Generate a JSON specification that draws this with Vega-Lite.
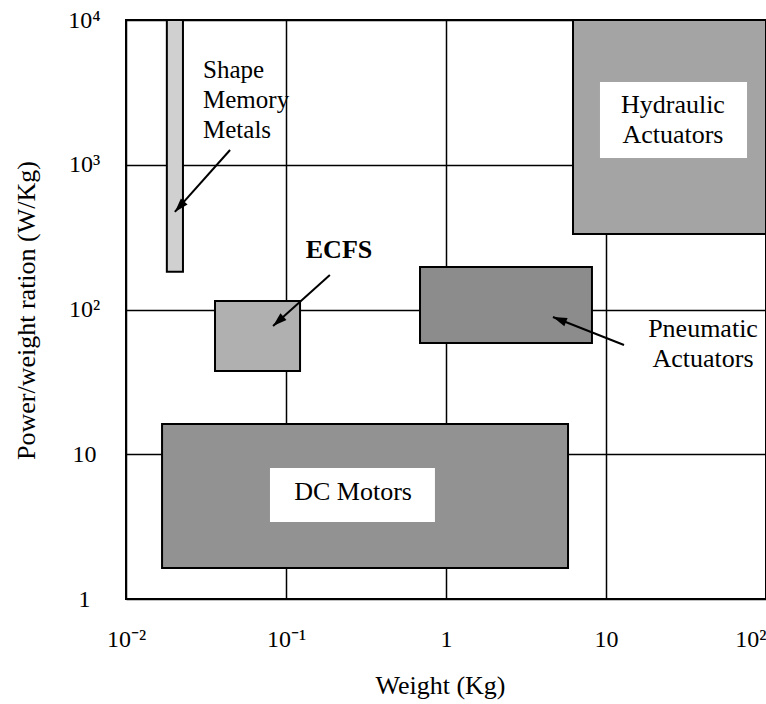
{
  "$schema": "https://vega.github.io/schema/vega-lite/v6.json",
  "width": 640,
  "height": 579,
  "autosize": "none",
  "padding": {"left": 126, "top": 20, "right": 0, "bottom": 105},
  "background": "white",
  "config": {
    "view": {"stroke": "black", "strokeWidth": 2},
    "font": "Liberation Serif"
  },
  "datasets": {
    "regions": [
      {"name": "Shape Memory Metals", "x": 0.0180, "x2": 0.0227, "y": 182, "y2": 10000},
      {"name": "ECFS", "x": 0.036, "x2": 0.1224, "y": 37.6, "y2": 114.5},
      {"name": "Pneumatic Actuators", "x": 0.688, "x2": 8.17, "y": 58.7, "y2": 196.6},
      {"name": "Hydraulic Actuators", "x": 6.22, "x2": 100, "y": 332, "y2": 10000},
      {"name": "DC Motors", "x": 0.0168, "x2": 5.79, "y": 1.64, "y2": 16.2}
    ],
    "labelboxes": [
      {"name": "DC Motors", "x": 0.0794, "x2": 0.853, "y": 3.40, "y2": 8.04},
      {"name": "Hydraulic Actuators", "x": 9.17, "x2": 76.1, "y": 1113, "y2": 3730}
    ],
    "arrows": [
      {"name": "smm", "x": 0.0202, "y": 472, "x2": 0.0447, "y2": 1265},
      {"name": "ecfs", "x": 0.083, "y": 76.9, "x2": 0.188, "y2": 173},
      {"name": "pneu", "x": 4.66, "y": 88.7, "x2": 12.96, "y2": 56.9}
    ],
    "texts": [
      {"group": "smm", "text": "Shape", "x": 0.0303, "y": 3974},
      {"group": "smm", "text": "Memory", "x": 0.0303, "y": 2466},
      {"group": "smm", "text": "Metals", "x": 0.0303, "y": 1531},
      {"group": "ecfs", "text": "ECFS", "x": 0.2144, "y": 227},
      {"group": "other", "text": "Hydraulic", "x": 26.2, "y": 2278},
      {"group": "other", "text": "Actuators", "x": 26.2, "y": 1413},
      {"group": "other", "text": "Pneumatic", "x": 40.4, "y": 64.6},
      {"group": "other", "text": "Actuators", "x": 40.4, "y": 40.1},
      {"group": "other", "text": "DC Motors", "x": 0.2625, "y": 4.83}
    ]
  },
  "encoding": {
    "x": {
      "field": "x",
      "type": "quantitative",
      "scale": {"type": "log", "domain": [0.01, 100], "nice": false},
      "axis": {
        "values": [0.01, 0.1, 1, 10, 100],
        "labelExpr": "datum.value < 0.05 ? '10⁻²' : datum.value < 0.5 ? '10⁻¹' : datum.value < 5 ? '1' : datum.value < 50 ? '10' : '10²'",
        "grid": true,
        "gridColor": "black",
        "gridWidth": 1.5,
        "gridOpacity": 1,
        "ticks": false,
        "tickSize": 0,
        "domain": false,
        "labelFlush": false,
        "labelOverlap": false,
        "labelFont": "Liberation Serif",
        "labelFontSize": 24,
        "labelColor": "black",
        "labelPadding": 28,
        "labelAlign": {"condition": {"test": "datum.value > 50", "value": "right"}, "value": "center"},
        "title": "Weight (Kg)",
        "titleFont": "Liberation Serif",
        "titleFontSize": 26,
        "titleFontWeight": "normal",
        "titleColor": "black",
        "titleX": 314,
        "titleY": 86,
        "titleAlign": "center",
        "titleBaseline": "middle"
      }
    },
    "y": {
      "field": "y",
      "type": "quantitative",
      "scale": {"type": "log", "domain": [1, 10000], "nice": false},
      "axis": {
        "values": [1, 10, 100, 1000, 10000],
        "labelExpr": "datum.value < 5 ? '1' : datum.value < 50 ? '10' : datum.value < 500 ? '10²' : datum.value < 5000 ? '10³' : '10⁴'",
        "grid": true,
        "gridColor": "black",
        "gridWidth": 1.5,
        "gridOpacity": 1,
        "ticks": false,
        "tickSize": 0,
        "domain": false,
        "labelOverlap": false,
        "labelFont": "Liberation Serif",
        "labelFontSize": 24,
        "labelColor": "black",
        "labelAlign": "center",
        "labelPadding": 42,
        "title": "Power/weight ration (W/Kg)",
        "titleFont": "Liberation Serif",
        "titleFontSize": 26,
        "titleFontWeight": "normal",
        "titleColor": "black",
        "titleX": -100,
        "titleY": 290,
        "titleAngle": -90,
        "titleAlign": "center",
        "titleBaseline": "middle"
      }
    }
  },
  "layer": [
    {
      "data": {"name": "regions"},
      "mark": {"type": "rect", "stroke": "black", "strokeWidth": 2},
      "encoding": {
        "x2": {"field": "x2"},
        "y2": {"field": "y2"},
        "color": {
          "field": "name",
          "type": "nominal",
          "scale": {
            "domain": ["Shape Memory Metals", "ECFS", "Pneumatic Actuators", "Hydraulic Actuators", "DC Motors"],
            "range": ["#d0d0d0", "#b0b0b0", "#8c8c8c", "#a4a4a4", "#929292"]
          },
          "legend": null
        }
      }
    },
    {
      "data": {"name": "labelboxes"},
      "mark": {"type": "rect", "fill": "white"},
      "encoding": {
        "x2": {"field": "x2"},
        "y2": {"field": "y2"}
      }
    },
    {
      "data": {"name": "arrows"},
      "mark": {"type": "rule", "stroke": "black", "strokeWidth": 2},
      "encoding": {
        "x2": {"field": "x2"},
        "y2": {"field": "y2"}
      }
    },
    {
      "data": {"name": "arrows"},
      "transform": [{"filter": "datum.name == 'smm'"}],
      "mark": {"type": "point", "shape": "M0,0L-0.32,1L0.32,1Z", "filled": true, "fill": "black", "opacity": 1, "size": 784, "angle": 222}
    },
    {
      "data": {"name": "arrows"},
      "transform": [{"filter": "datum.name == 'ecfs'"}],
      "mark": {"type": "point", "shape": "M0,0L-0.32,1L0.32,1Z", "filled": true, "fill": "black", "opacity": 1, "size": 784, "angle": 228}
    },
    {
      "data": {"name": "arrows"},
      "transform": [{"filter": "datum.name == 'pneu'"}],
      "mark": {"type": "point", "shape": "M0,0L-0.32,1L0.32,1Z", "filled": true, "fill": "black", "opacity": 1, "size": 784, "angle": 291.5}
    },
    {
      "data": {"name": "texts"},
      "transform": [{"filter": "datum.group == 'smm'"}],
      "mark": {"type": "text", "align": "left", "baseline": "alphabetic", "font": "Liberation Serif", "fontSize": 25, "color": "black"},
      "encoding": {"text": {"field": "text"}}
    },
    {
      "data": {"name": "texts"},
      "transform": [{"filter": "datum.group == 'ecfs'"}],
      "mark": {"type": "text", "align": "center", "baseline": "alphabetic", "font": "Liberation Serif", "fontSize": 26, "fontWeight": "bold", "color": "black"},
      "encoding": {"text": {"field": "text"}}
    },
    {
      "data": {"name": "texts"},
      "transform": [{"filter": "datum.group == 'other'"}],
      "mark": {"type": "text", "align": "center", "baseline": "alphabetic", "font": "Liberation Serif", "fontSize": 26, "color": "black"},
      "encoding": {"text": {"field": "text"}}
    }
  ]
}
